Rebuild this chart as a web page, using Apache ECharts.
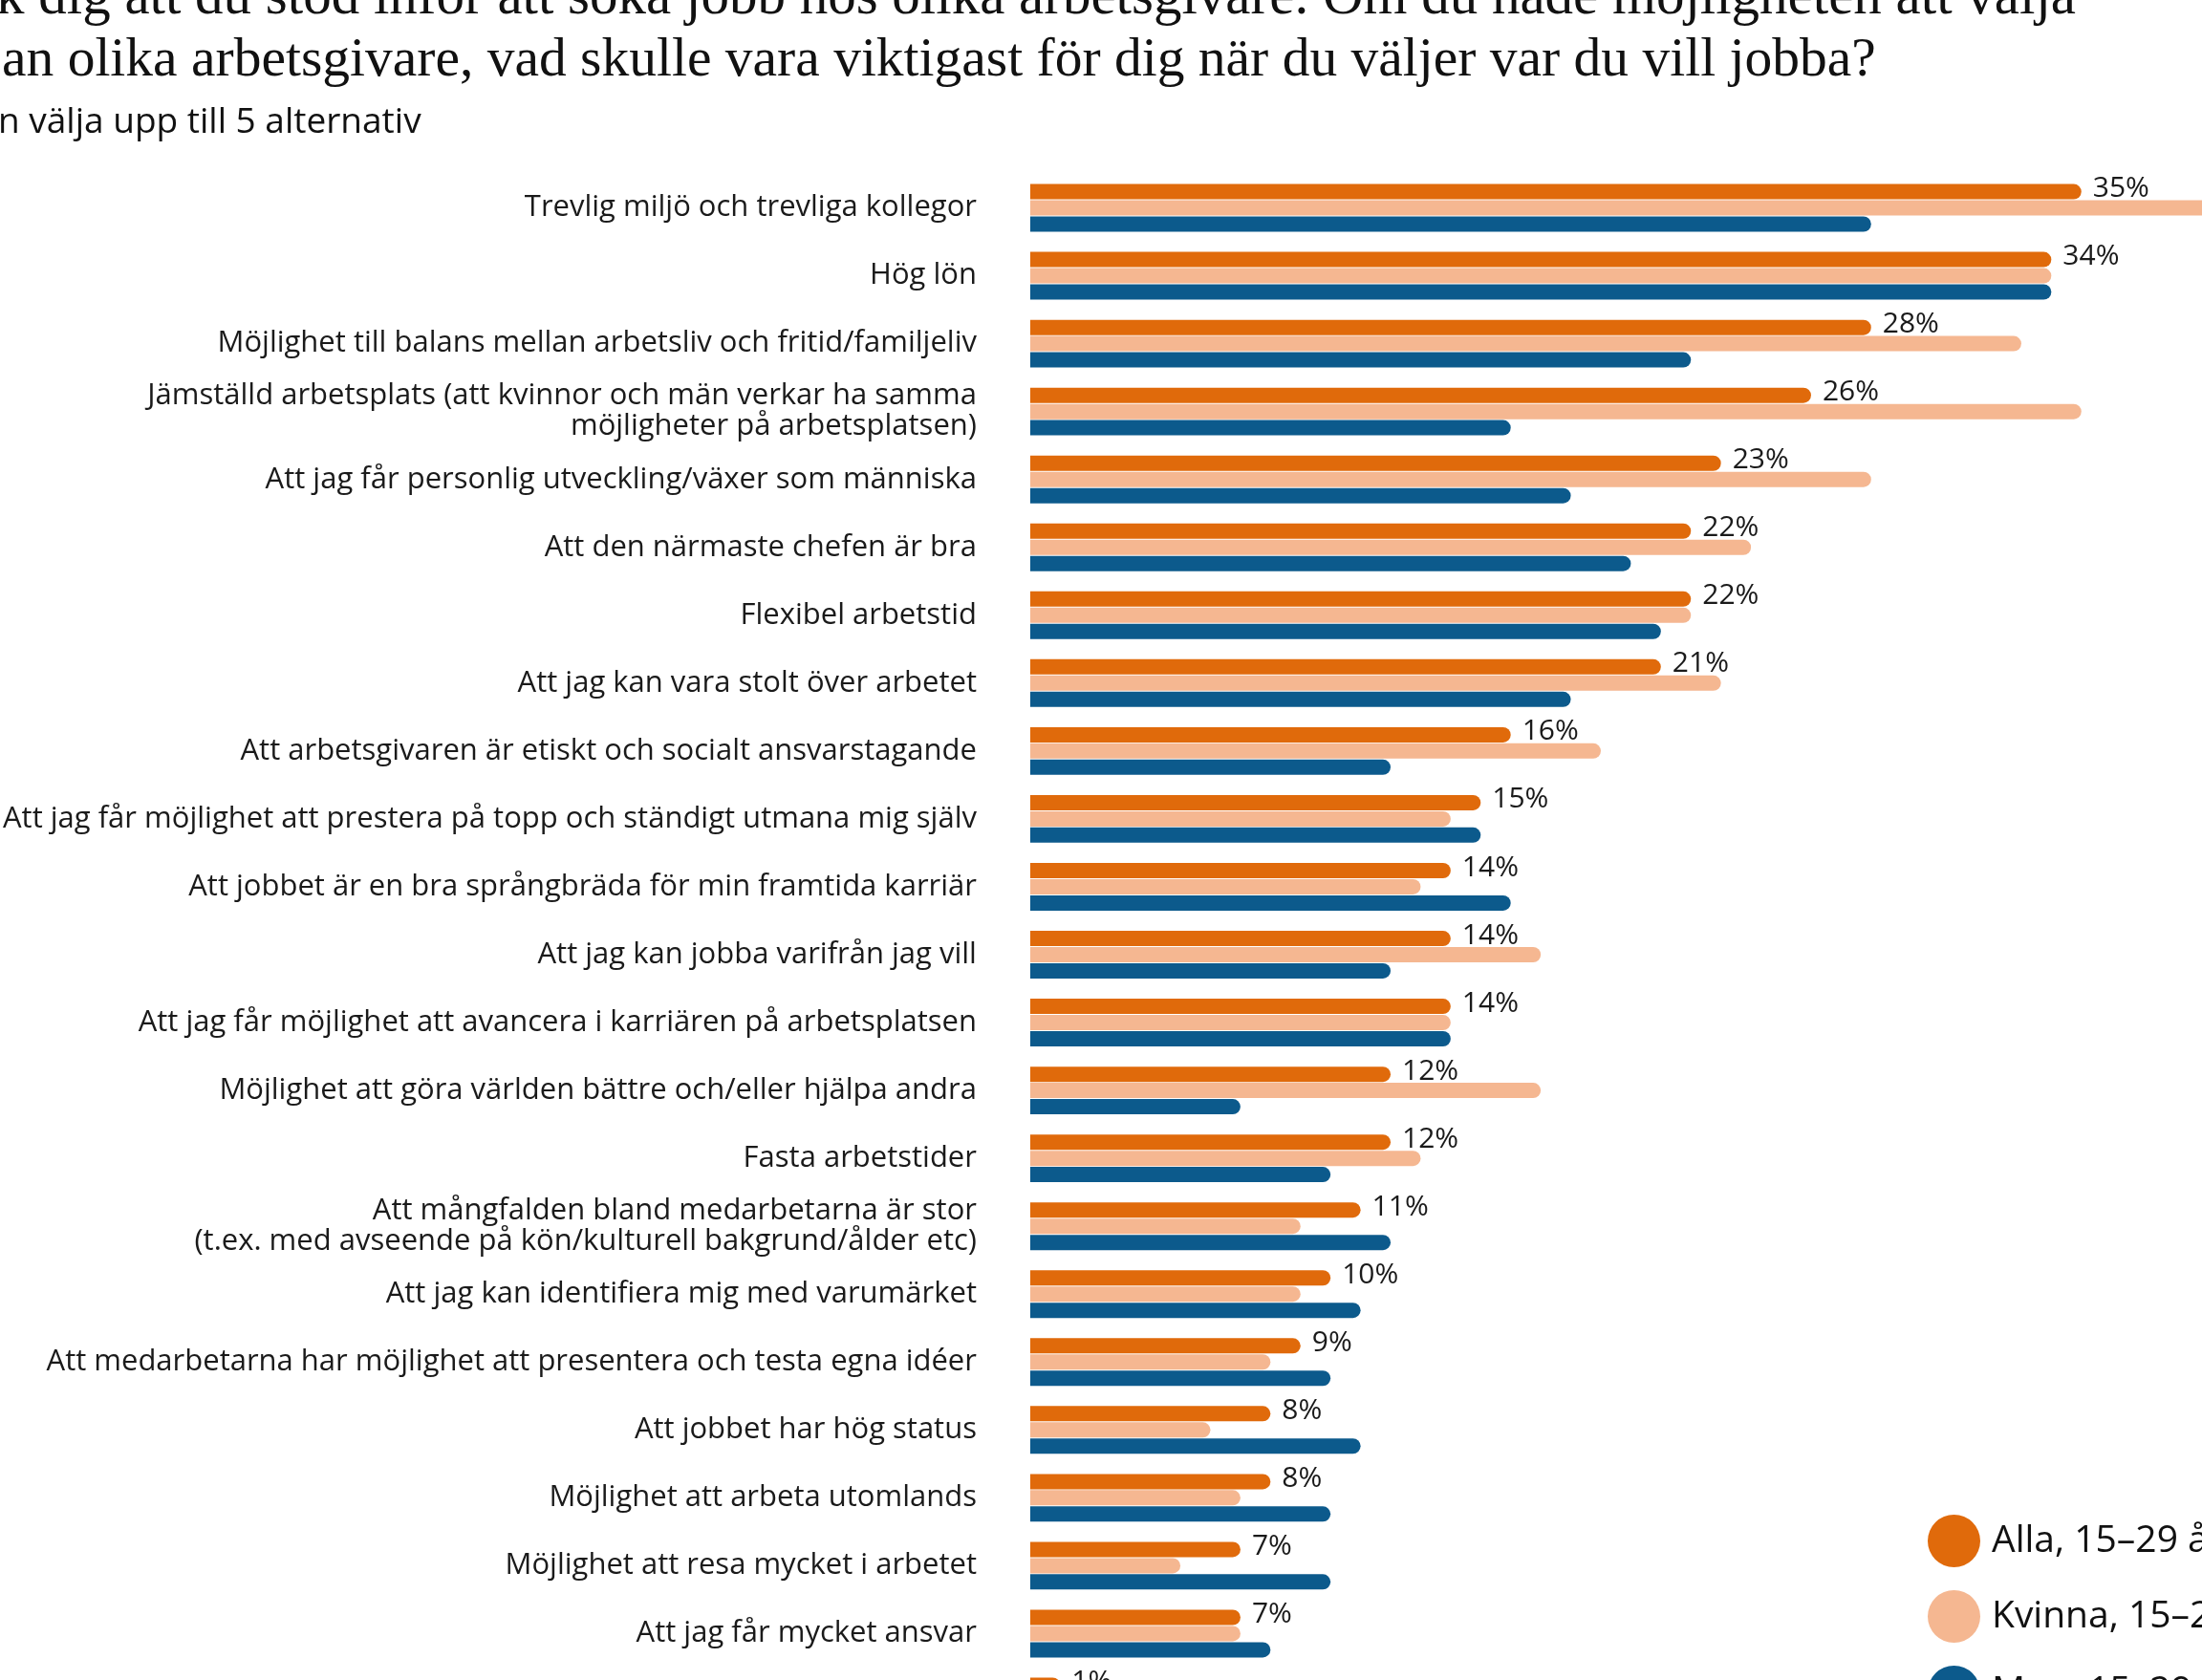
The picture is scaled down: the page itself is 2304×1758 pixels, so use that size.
<!DOCTYPE html>
<html>
<head>
<meta charset="utf-8">
<script src="https://cdn.jsdelivr.net/npm/echarts@6/dist/echarts.min.js"></script>
<style>
html,body{margin:0;padding:0;background:#fff;overflow:hidden;width:2304px;height:1758px;}
#chart{width:2600px;height:1900px;position:absolute;left:0;top:0;}
</style>
</head>
<body>
<div id="chart"></div>
<script>
const titleLines = [
  "k dig att du stod inför att söka jobb hos olika arbetsgivare. Om du hade möjligheten att välja",
  "an olika arbetsgivare, vad skulle vara viktigast för dig när du väljer var du vill jobba?"
];
const subtitle = "n välja upp till 5 alternativ";

const categories = [
  "Trevlig miljö och trevliga kollegor",
  "Hög lön",
  "Möjlighet till balans mellan arbetsliv och fritid/familjeliv",
  "Jämställd arbetsplats (att kvinnor och män verkar ha samma\nmöjligheter på arbetsplatsen)",
  "Att jag får personlig utveckling/växer som människa",
  "Att den närmaste chefen är bra",
  "Flexibel arbetstid",
  "Att jag kan vara stolt över arbetet",
  "Att arbetsgivaren är etiskt och socialt ansvarstagande",
  "Att jag får möjlighet att prestera på topp och ständigt utmana mig själv",
  "Att jobbet är en bra språngbräda för min framtida karriär",
  "Att jag kan jobba varifrån jag vill",
  "Att jag får möjlighet att avancera i karriären på arbetsplatsen",
  "Möjlighet att göra världen bättre och/eller hjälpa andra",
  "Fasta arbetstider",
  "Att mångfalden bland medarbetarna är stor\n(t.ex. med avseende på kön/kulturell bakgrund/ålder etc)",
  "Att jag kan identifiera mig med varumärket",
  "Att medarbetarna har möjlighet att presentera och testa egna idéer",
  "Att jobbet har hög status",
  "Möjlighet att arbeta utomlands",
  "Möjlighet att resa mycket i arbetet",
  "Att jag får mycket ansvar",
  "Annat"
];

const seriesNames = ["Alla, 15–29 år", "Kvinna, 15–29 år", "Man, 15–29 år"];
const alla   = [35,34,28,26,23,22,22,21,16,15,14,14,14,12,12,11,10,9,8,8,7,7,1];
const kvinna = [42,34,33,35,28,24,22,23,19,14,13,17,14,17,13,9,9,8,6,7,5,7,null];
const man    = [28,34,22,16,18,20,21,18,12,15,16,12,14,7,10,12,11,10,11,10,10,8,null];

const colors = ["#E06A0B", "#F5B791", "#0C5A8C"];

const chart = echarts.init(document.getElementById('chart'), null, {renderer: 'canvas'});

const barCommon = {
  type: 'bar',
  barWidth: 16,
  barGap: '6%',
  clip: false,
  silent: true
};

chart.setOption({
  backgroundColor: '#ffffff',
  animation: false,
  graphic: [
    {type: 'text', left: -4, top: -31, style: {text: titleLines[0], font: '500 59px "Liberation Serif"', fill: '#111'}},
    {type: 'text', left: 2, top: 35, style: {text: titleLines[1], font: '500 57.5px "Liberation Serif"', fill: '#111'}},
    {type: 'text', left: -2, top: 110, style: {text: subtitle, font: '37px "Open Sans"', fill: '#111'}}
  ],
  legend: {
    orient: 'vertical',
    left: 2012,
    top: 1580,
    itemWidth: 55,
    itemHeight: 55,
    itemGap: 24,
    icon: 'circle',
    textStyle: {fontFamily: '"Open Sans"', fontSize: 39, color: '#111', padding: [0, 0, 0, 7]},
    data: seriesNames
  },
  grid: {left: 1075, right: 108, top: 182, bottom: 84},
  xAxis: {
    type: 'value', min: 0, max: 45, show: false
  },
  yAxis: {
    type: 'category',
    inverse: true,
    data: categories,
    axisLine: {show: false},
    axisTick: {show: false},
    splitLine: {show: false},
    axisLabel: {
      margin: 56,
      fontFamily: '"Open Sans"',
      fontSize: 31,
      color: '#1a1a1a',
      lineHeight: 32,
      align: 'right'
    }
  },
  series: [
    Object.assign({}, barCommon, {
      name: seriesNames[0], data: alla,
      itemStyle: {color: colors[0], borderRadius: [0, 8, 8, 0]},
      label: {show: true, position: 'right', distance: 12, offset: [0, -3],
        formatter: '{c}%', fontFamily: '"Open Sans"', fontSize: 30, color: '#1a1a1a'}
    }),
    Object.assign({}, barCommon, {
      name: seriesNames[1], data: kvinna,
      itemStyle: {color: colors[1], borderRadius: [0, 8, 8, 0]}
    }),
    Object.assign({}, barCommon, {
      name: seriesNames[2], data: man,
      itemStyle: {color: colors[2], borderRadius: [0, 8, 8, 0]}
    })
  ]
});
</script>
</body>
</html>
